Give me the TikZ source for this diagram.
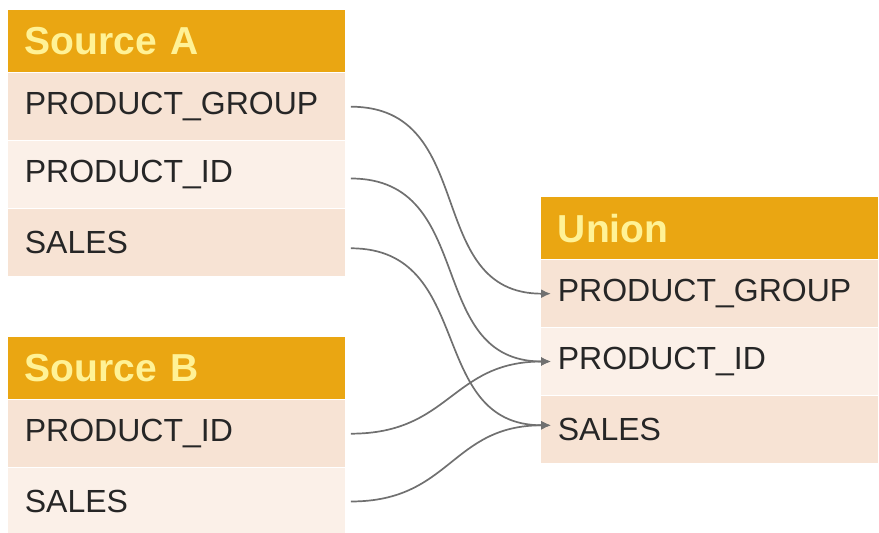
\documentclass[tikz,border=0pt]{standalone}
\usepackage{fontspec}
\setmainfont{Liberation Sans}
\usetikzlibrary{positioning,arrows.meta}
\definecolor{hdrorange}{RGB}{234,166,18}
\definecolor{hdrtext}{RGB}{255,242,150}
\definecolor{rowdark}{RGB}{247,227,212}
\definecolor{rowlight}{RGB}{251,240,232}
\definecolor{linkgray}{RGB}{112,112,112}

\begin{document}
\begin{tikzpicture}[x=0.5pt, y=-0.5pt,
	box/.style={anchor=north west, minimum width=168.5pt, text width=152pt, inner xsep=8.25pt, inner ysep=0pt, align=left},
	hdr/.style={box, fill=hdrorange, text=hdrtext, minimum height=31pt, font=\fontsize{19.5}{20}\selectfont\bfseries},
	field/.style={box, minimum height=33.5pt, text=black!85, font=\fontsize{16}{18}\selectfont},
	dark/.style={field, fill=rowdark},
	light/.style={field, fill=rowlight},
	link/.style={draw=linkgray, line width=0.85pt, looseness=1.2, -{Latex[length=5pt,width=4.5pt]}}]
\useasboundingbox (0, 0) rectangle (879, 533);

\node[hdr] (hdrA) at (8, 10) {Source A};
\node[dark, below=0pt of hdrA] (aGroup) {PRODUCT\_GROUP};
\node[light, below=0pt of aGroup] (aId) {PRODUCT\_ID};
\node[dark, below=0pt of aId] (aSales) {SALES};

\node[hdr] (hdrB) at (8, 337) {Source B};
\node[dark, below=0pt of hdrB] (bId) {PRODUCT\_ID};
\node[light, below=0pt of bId] (bSales) {SALES};

\node[hdr] (hdrU) at (541, 197) {Union};
\node[dark, below=0pt of hdrU] (uGroup) {PRODUCT\_GROUP};
\node[light, below=0pt of uGroup] (uId) {PRODUCT\_ID};
\node[dark, below=0pt of uId] (uSales) {SALES};

\draw[link] ([xshift=2.5pt]aGroup.east) to[out=0, in=180] ([xshift=5pt]uGroup.west);
\draw[link] ([xshift=2.5pt, yshift=-2pt]aId.east) to[out=0, in=180] ([xshift=5pt]uId.west);
\draw[link] ([xshift=2.5pt, yshift=-3pt]aSales.east) to[out=0, in=180] ([xshift=5pt, yshift=2pt]uSales.west);
\draw[link] ([xshift=2.5pt]bId.east) to[out=0, in=180] ([xshift=5pt]uId.west);
\draw[link] ([xshift=2.5pt]bSales.east) to[out=0, in=180] ([xshift=5pt, yshift=2pt]uSales.west);
\end{tikzpicture}
\end{document}
